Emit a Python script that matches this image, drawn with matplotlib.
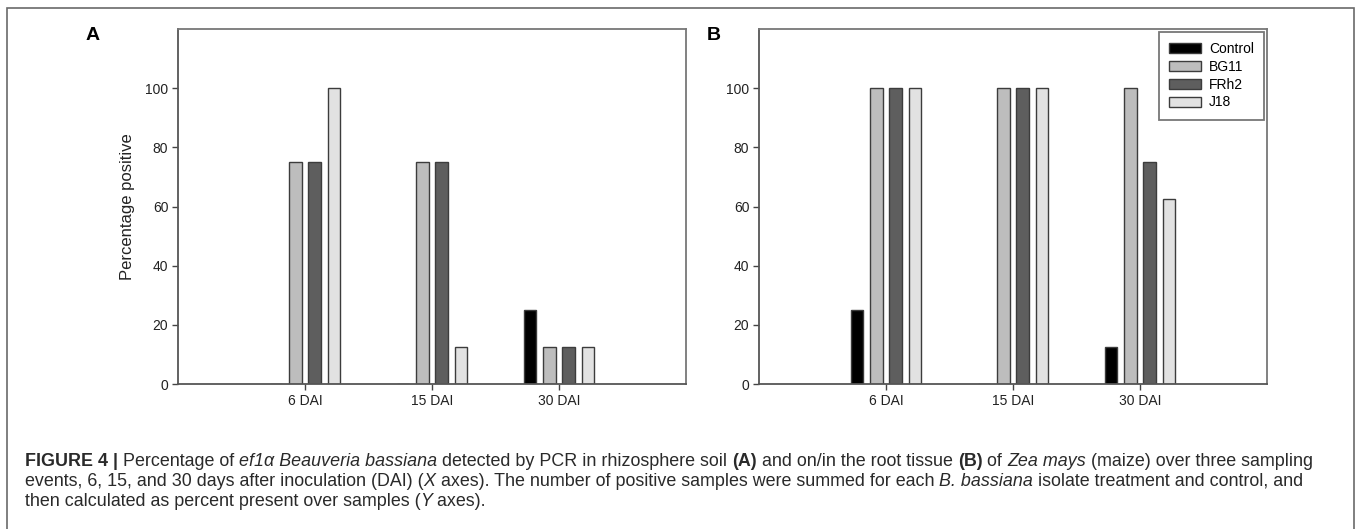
"""
Two-panel grouped bar chart: % of samples PCR-positive for B. bassiana, with figure caption.
"""
import numpy as np
import matplotlib.pyplot as plt
from matplotlib.patches import Patch, Rectangle

plt.rcParams["font.family"] = ["Liberation Sans", "DejaVu Sans"]

days = ["6 DAI", "15 DAI", "30 DAI"]
series = ["Control", "BG11", "FRh2", "J18"]
colors = ["#000000", "#bdbdbd", "#5e5e5e", "#e2e2e2"]

# panel A: rhizosphere soil
soil_control = [0, 0, 25]
soil_bg11 = [75, 75, 12.5]
soil_frh2 = [75, 75, 12.5]
soil_j18 = [100, 12.5, 12.5]

# panel B: root tissue
root_control = [25, 0, 12.5]
root_bg11 = [100, 100, 100]
root_frh2 = [100, 100, 75]
root_j18 = [100, 100, 62.5]

W, H = 1357, 529
fig = plt.figure(figsize=(W / 100, H / 100), dpi=100)

# outer frame (open at the bottom edge of the image)
fig.patches.append(Rectangle((7 / W, -4 / H), (1354 - 7) / W, (521 + 4) / H, transform=fig.transFigure,
                             fill=False, edgecolor="#6a6a6a", linewidth=1.2))

ax_a = fig.add_axes([178 / W, (H - 384) / H, 508 / W, 355 / H])
ax_b = fig.add_axes([759 / W, (H - 384) / H, 508 / W, 355 / H])


def draw_panel(ax, vals):
    x = np.arange(1, len(days) + 1)
    step, width = 0.15, 0.095
    for i, (v, c) in enumerate(zip(vals, colors)):
        ax.bar(x + (i - 1.5) * step, v, width=width, color=c, edgecolor="#3c3c3c", linewidth=1.0, zorder=2)
    ax.set_xlim(0, 4)
    ax.set_ylim(0, 120)
    ax.set_xticks(x)
    ax.set_xticklabels(days)
    ax.set_yticks(np.arange(0, 101, 20))
    ax.tick_params(axis="both", labelsize=10, length=4, width=1, color="#444444", labelcolor="#222222", pad=3)
    for side in ["left", "bottom"]:
        ax.spines[side].set_color("#555555")
        ax.spines[side].set_linewidth(1.3)
    for side in ["top", "right"]:
        ax.spines[side].set_color("#777777")
        ax.spines[side].set_linewidth(1.3)


draw_panel(ax_a, [soil_control, soil_bg11, soil_frh2, soil_j18])
draw_panel(ax_b, [root_control, root_bg11, root_frh2, root_j18])
ax_a.set_ylabel("Percentage positive", fontsize=12, color="#222222", labelpad=7)

handles = [Patch(facecolor=c, edgecolor="#3c3c3c", linewidth=1.0) for c in colors]
leg = ax_b.legend(handles, series, loc="upper right", fontsize=10, fancybox=False, borderaxespad=0.2,
                  handlelength=2.3, handleheight=0.72, handletextpad=0.55, labelspacing=0.27, borderpad=0.75)
leg.get_frame().set_edgecolor("#555555")
leg.get_frame().set_linewidth(1.3)

fig.text(86 / W, 1 - 36 / H, "A", fontsize=14, fontweight="bold", va="center", ha="left")
fig.text(707 / W, 1 - 36 / H, "B", fontsize=14, fontweight="bold", va="center", ha="left")

# caption, drawn piece by piece so bold / italic runs sit inline
caption = [
    [("FIGURE 4 | ", "bold"), ("Percentage of ", "normal"), ("ef1\u03b1 Beauveria bassiana", "italic"),
     (" detected by PCR in rhizosphere soil ", "normal"), ("(A)", "bold"),
     (" and on/in the root tissue ", "normal"), ("(B)", "bold"), (" of ", "normal"), ("Zea mays", "italic"),
     (" (maize) over three sampling", "normal")],
    [("events, 6, 15, and 30 days after inoculation (DAI) (", "normal"), ("X", "italic"),
     (" axes). The number of positive samples were summed for each ", "normal"), ("B. bassiana", "italic"),
     (" isolate treatment and control, and", "normal")],
    [("then calculated as percent present over samples (", "normal"), ("Y", "italic"), (" axes).", "normal")],
]
cap_x0, cap_x1 = 25, 1315
cap_y = [461, 481, 501]
renderer = fig.canvas.get_renderer()


def seg_width(s, style, size):
    # measure with placeholder chars around so leading/trailing spaces count
    kw = dict(fontsize=size, fontweight="bold" if style == "bold" else "normal",
              fontstyle="italic" if style == "italic" else "normal")
    t = fig.text(0, 0, "|" + s + "|", **kw)
    t2 = fig.text(0, 0, "||", **kw)
    w = t.get_window_extent(renderer).width - t2.get_window_extent(renderer).width
    t.remove()
    t2.remove()
    return w, kw


# fit the first caption line to the width it has in the figure
base = 10.0
w0 = sum(seg_width(s, st, base)[0] for s, st in caption[0])
cap_size = base * (cap_x1 - cap_x0) / w0

for line, yy in zip(caption, cap_y):
    xpix = cap_x0
    for s, style in line:
        w, kw = seg_width(s, style, cap_size)
        fig.text(xpix / W, 1 - yy / H, s, va="center", ha="left", color="#2a2a2a", **kw)
        xpix += w

fig.savefig("out.png", dpi=100)
